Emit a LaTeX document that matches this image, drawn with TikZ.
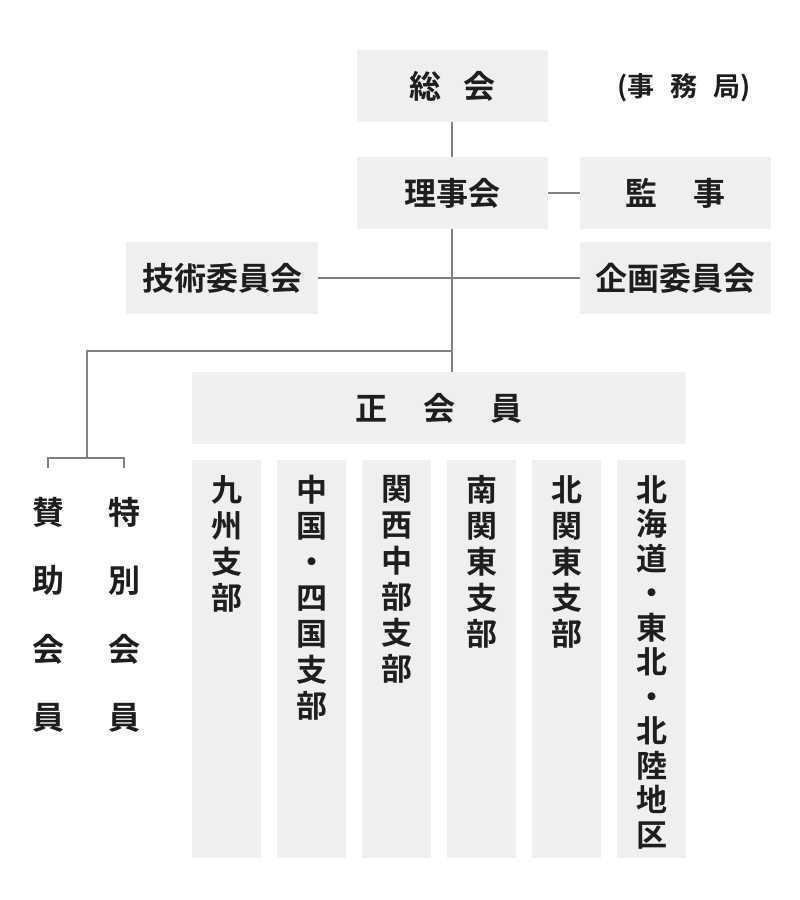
\documentclass[tikz,border=0pt]{standalone}
\usepackage{fontspec}
\newfontfamily\cjk{Noto Sans CJK JP Bold}
\definecolor{bx}{HTML}{EFEFEF}
\definecolor{ln}{HTML}{808080}
\definecolor{tx}{HTML}{1E1E1E}
\begin{document}
\begin{tikzpicture}[x=1pt,y=-1pt,
  lbl/.style={font=\cjk\fontsize{32}{32}\selectfont,text=tx,inner sep=0},
  vt/.style={font=\cjk\fontsize{31}{36}\selectfont,text=tx,align=center,anchor=north,inner sep=0},
  cn/.style={draw=ln,line width=1.5pt}]
\useasboundingbox (0,0) rectangle (800,900);
\fill[white] (0,0) rectangle (800,900);
% boxes
\fill[bx] (357,50) rectangle (548,122); \node[lbl] (sokai) at (452.5,86) {総\hspace{0.7em}会};
\node[lbl,font=\cjk\fontsize{27}{27}\selectfont] (jim) at (684,88) {(事\hspace{0.6em}務\hspace{0.6em}局)};
\fill[bx] (357,157) rectangle (548,229); \node[lbl] (rij) at (452.5,193) {理事会};
\fill[bx] (580,157) rectangle (771,229); \node[lbl] (kan) at (675.5,193) {監\hspace{1.1em}事};
\fill[bx] (126,242) rectangle (318,314); \node[lbl] (gij) at (222,278) {技術委員会};
\fill[bx] (580,242) rectangle (771,314); \node[lbl] (kik) at (675.5,278) {企画委員会};
\fill[bx] (192,372) rectangle (686,444); \node[lbl] (sei) at (439,408) {正\hspace{1.1em}会\hspace{1.1em}員};
% columns
\foreach \x/\t in {192/{九\\州\\支\\部},277/{中\\国\\・\\四\\国\\支\\部},362/{関\\西\\中\\部\\支\\部},447/{南\\関\\東\\支\\部},532/{北\\関\\東\\支\\部}}{
  \fill[bx] (\x,460) rectangle ({\x+69},858);
  \node[vt] at ({\x+34.5},475) {\t};}
\fill[bx] (617,460) rectangle (686,858);
\node[vt,font=\cjk\fontsize{31}{34.5}\selectfont] (hok) at (651.5,475) {北\\海\\道\\・\\東\\北\\・\\北\\陸\\地\\区};
\node[vt,font=\cjk\fontsize{32}{68.5}\selectfont] (san) at (48,497) {賛\\助\\会\\員};
\node[vt,font=\cjk\fontsize{32}{68.5}\selectfont] (tok) at (124,497) {特\\別\\会\\員};
% connectors
\draw[cn] (452,122) -- (452,157);
\draw[cn] (452,229) -- (452,372);
\draw[cn] (548,193) -- (580,193);
\draw[cn] (318,278) -- (580,278);
\draw[cn] (452,351) -- (87,351) -- (87,458);
\draw[cn] (48,468) -- (48,458) -- (124,458) -- (124,468);
\end{tikzpicture}
\end{document}
